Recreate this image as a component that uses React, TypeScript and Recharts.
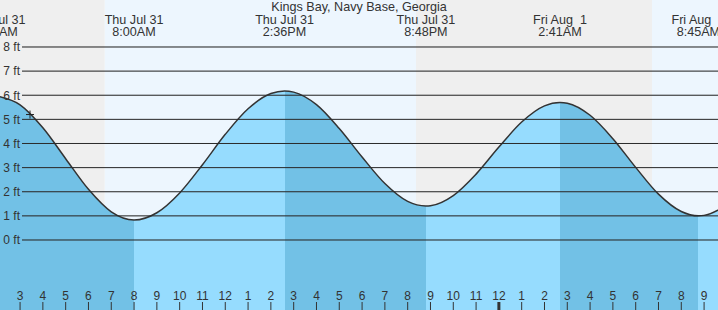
import React from 'react';
import { AreaChart, Area, XAxis, YAxis, ReferenceArea, ReferenceLine, ReferenceDot } from 'recharts';

// tide curve (hours since Thu Jul 31 00:00, feet)
const hours = [1.95, 3, 4, 5, 6, 7, 8, 9, 10, 11, 12, 13, 14, 14.6, 15, 16, 17, 18, 19, 20, 20.8, 21, 22, 23, 24, 25, 26, 26.683, 27, 28, 29, 30, 31, 32, 32.75, 33, 34];
const heights = [5.97, 5.6, 4.65, 3.37, 2.1, 1.17, 0.83, 1.13, 1.95, 3.12, 4.38, 5.44, 6.07, 6.18, 6.13, 5.61, 4.62, 3.44, 2.34, 1.6, 1.41, 1.42, 1.84, 2.73, 3.85, 4.89, 5.56, 5.7, 5.67, 5.17, 4.2, 3.01, 1.9, 1.18, 1.0, 1.02, 1.45];

// highs / lows shown in the header
const extremeTimes = [1.95, 8.0, 14.6, 20.8, 26.683, 32.75];
const extremeDays = ['Thu Jul 31', 'Thu Jul 31', 'Thu Jul 31', 'Thu Jul 31', 'Fri Aug  1', 'Fri Aug  1'];
const extremeClock = ['1:57AM', '8:00AM', '2:36PM', '8:48PM', '2:41AM', '8:45AM'];

// sunrise / sunset
const sunTimes = [6.717, 20.367, 30.717];

const hourTicks = [3, 4, 5, 6, 7, 8, 9, 10, 11, 12, 13, 14, 15, 16, 17, 18, 19, 20, 21, 22, 23, 24, 25, 26, 27, 28, 29, 30, 31, 32, 33];
const feetTicks = [0, 1, 2, 3, 4, 5, 6, 7, 8];

const nowTime = 3.436;
const nowHeight = 5.2;

const X_DOMAIN: [number, number] = [2.12, 33.61];
const Y_DOMAIN: [number, number] = [-2.902, 9.948];

const NIGHT = '#efefef';
const DAY = '#edf6fe';
const RISING = '#96dcfe';
const FALLING = '#72c1e6';
const INK = '#333';

const data = hours.map((t, i) => ({ t, h: heights[i] }));

const bands = [X_DOMAIN[0], ...sunTimes].map((start, i, arr) => ({
  x1: start,
  x2: i + 1 < arr.length ? arr[i + 1] : X_DOMAIN[1],
  fill: i % 2 === 0 ? NIGHT : DAY,
}));

// falling tide is the darker blue: from each high to the next low
const span = hours[hours.length - 1] - hours[0];
const stops: { offset: number; color: string }[] = [];
extremeTimes.forEach((t, i) => {
  const color = i % 2 === 0 ? FALLING : RISING;
  const next = i + 1 < extremeTimes.length ? extremeTimes[i + 1] : hours[hours.length - 1];
  stops.push({ offset: (t - hours[0]) / span, color });
  stops.push({ offset: (next - hours[0]) / span, color });
});

const fmtHour = (h: number) => String(((h - 1) % 12) + 1);

const BottomTick = (props: any) => {
  const { x, payload } = props;
  const midnight = payload.value === 24;
  return (
    <g>
      <line x1={x} x2={x} y1={302} y2={310} stroke={INK} strokeWidth={midnight ? 3 : 1} />
      <text x={x} y={299.5} textAnchor="middle" fontSize={12} fill={INK}>
        {fmtHour(payload.value)}
      </text>
    </g>
  );
};

const headerShape = (i: number) => (props: any) => (
  <g>
    <text x={props.x1} y={23.5} textAnchor="middle" fontSize={12.6} fill={INK} style={{ whiteSpace: 'pre' }}>
      {extremeDays[i]}
    </text>
    <text x={props.x1} y={36} textAnchor="middle" fontSize={12.6} fill={INK}>
      {extremeClock[i]}
    </text>
  </g>
);

const gridShape = (ft: number) => (props: any) => (
  <g>
    <line x1={props.x1 + 22} x2={props.x2} y1={props.y1} y2={props.y2} stroke={INK} strokeWidth={1} />
    <text x={props.x1 + 20} y={props.y1 + 4.3} textAnchor="end" fontSize={12} fill={INK}>
      {`${ft} ft`}
    </text>
  </g>
);

const faintShape = (props: any) => (
  <line x1={props.x1 + 22} x2={props.x2} y1={props.y1} y2={props.y2} stroke="#000" strokeOpacity={0.15} strokeWidth={1} />
);

const crossShape = (props: any) => (
  <g stroke="#222" strokeWidth={1}>
    <line x1={props.cx - 4} x2={props.cx + 4} y1={props.cy} y2={props.cy} />
    <line x1={props.cx} x2={props.cx} y1={props.cy - 4} y2={props.cy + 4} />
  </g>
);

export default function App() {
  return (
    <div style={{ position: 'absolute', left: 0, top: 0, width: 718, height: 310, fontFamily: '"Liberation Sans", Arial, sans-serif' }}>
      <AreaChart width={718} height={310} data={data} margin={{ top: 0, right: 0, bottom: 0, left: 0 }}>
        <defs>
          <linearGradient id="tideFill" x1="0" y1="0" x2="1" y2="0">
            {stops.map((s, i) => (
              <stop key={i} offset={s.offset} stopColor={s.color} />
            ))}
          </linearGradient>
        </defs>
        <XAxis dataKey="t" type="number" domain={X_DOMAIN} allowDataOverflow ticks={hourTicks} interval={0} mirror axisLine={false} tickLine={false} tick={<BottomTick />} />
        <YAxis type="number" domain={Y_DOMAIN} allowDataOverflow hide />
        {bands.map((b, i) => (
          <ReferenceArea key={i} x1={b.x1} x2={b.x2} fill={b.fill} fillOpacity={1} stroke="none" ifOverflow="hidden" />
        ))}
        {feetTicks.map((ft) => (
          <ReferenceLine key={ft} y={ft} shape={gridShape(ft)} />
        ))}
        <Area
          dataKey="h"
          type="monotone"
          baseValue={Y_DOMAIN[0]}
          fill="url(#tideFill)"
          fillOpacity={1}
          stroke={INK}
          strokeWidth={1.5}
          isAnimationActive={false}
          dot={false}
          activeDot={false}
        />
        {feetTicks.map((ft) => (
          <ReferenceLine key={`f${ft}`} y={ft} shape={faintShape} />
        ))}
        {extremeTimes.map((t, i) => (
          <ReferenceLine key={`x${i}`} x={t} ifOverflow="visible" shape={headerShape(i)} />
        ))}
        <ReferenceDot x={nowTime} y={nowHeight} r={4} shape={crossShape} />
      </AreaChart>
      <div style={{ position: 'absolute', left: 0, top: 0, width: 718, textAlign: 'center', fontSize: 12.6, lineHeight: '14px', color: INK }}>
        Kings Bay, Navy Base, Georgia
      </div>
    </div>
  );
}
